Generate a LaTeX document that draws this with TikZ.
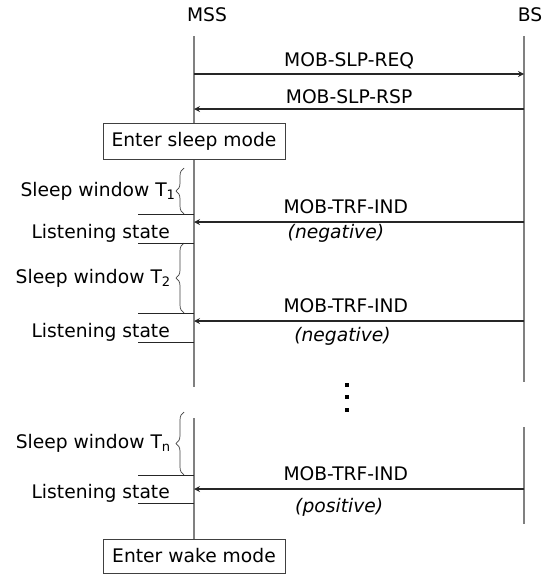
\documentclass[tikz,border=0pt]{standalone}
\usepackage{fontspec}
\setmainfont{DejaVu Sans}
\usetikzlibrary{decorations.pathreplacing}

\begin{document}
\begin{tikzpicture}[>=stealth,
  every node/.style={font=\fontsize{13.3}{15}\selectfont},
  life/.style={draw=black!50,line width=0.9pt},
  msg/.style={->,draw=black!85,line width=0.9pt},
  modebox/.style={draw=black!75,fill=white,line width=0.6pt,minimum width=4.55cm,minimum height=0.9cm,inner sep=0pt},
  tick/.style={draw=black!85,line width=0.6pt},
  window/.style={decorate,decoration={brace,amplitude=0.2cm},draw=black!75,line width=0.5pt}]
  \useasboundingbox (0,0) rectangle (13.75,-14.375);
  % lifelines
  \node (mss) at (5.175,-0.375) {MSS};
  \node (bs) at (13.25,-0.375) {BS};
  \coordinate (msstop) at (4.85,-0.9);
  \coordinate (mssend) at (4.85,-9.675);
  \coordinate (mssgo) at (4.85,-10.45);
  \coordinate (bstop) at (13.1,-0.9);
  \coordinate (bsend) at (13.1,-9.55);
  \coordinate (bsgo) at (13.1,-10.675);
  \coordinate (bsbot) at (13.1,-13.1);
  \draw[life] (msstop) -- (mssend);
  \draw[life] (bstop) -- (bsend);
  \draw[life] (bsgo) -- (bsbot);
  \node[modebox] (sleep) at (4.85,-3.54) {Enter sleep mode};
  \node[modebox,minimum height=0.85cm] (wake) at (4.85,-13.9) {Enter wake mode};
  \draw[life] (mssgo) -- (wake.north);
  % sleep request / response
  \coordinate (reqm) at (4.85,-1.85);
  \coordinate (reqb) at (13.1,-1.85);
  \coordinate (rspm) at (4.85,-2.725);
  \coordinate (rspb) at (13.1,-2.725);
  \draw[msg] (reqm) -- node[above,pos=0.47] {MOB-SLP-REQ} (reqb);
  \draw[msg] (rspb) -- node[above,pos=0.53] {MOB-SLP-RSP} (rspm);
  % traffic indications
  \coordinate (trf1m) at (4.85,-5.55);
  \coordinate (trf1b) at (13.1,-5.55);
  \coordinate (trf2m) at (4.85,-8.025);
  \coordinate (trf2b) at (13.1,-8.025);
  \coordinate (trf3m) at (4.85,-12.225);
  \coordinate (trf3b) at (13.1,-12.225);
  \draw[msg] (trf1b) -- node[above=2pt,pos=0.54] {MOB-TRF-IND} node[below=-2pt,pos=0.57] {\itshape(negative)} (trf1m);
  \draw[msg] (trf2b) -- node[above=2pt,pos=0.54] {MOB-TRF-IND} node[below=1pt,pos=0.55] {\itshape(negative)} (trf2m);
  \draw[msg] (trf3b) -- node[above=2pt,pos=0.54] {MOB-TRF-IND} node[below=3pt,pos=0.56] {\itshape(positive)} (trf3m);
  % sleep windows
  \draw[window] (4.6,-5.35) -- node[left=0.08cm] {Sleep window T\textsubscript{1}} (4.6,-4.2);
  \draw[window] (4.6,-7.825) -- node[left=0.2cm] {Sleep window T\textsubscript{2}} (4.6,-6.075);
  \draw[window] (4.6,-11.875) -- node[left=0.2cm] {Sleep window T\textsubscript{n}} (4.6,-10.3);
  \draw[tick] (3.45,-5.35) -- ++(1.4,0);
  \draw[tick] (3.45,-6.075) -- ++(1.4,0);
  \draw[tick] (3.45,-7.825) -- ++(1.4,0);
  \draw[tick] (3.45,-8.55) -- ++(1.4,0);
  \draw[tick] (3.45,-11.875) -- ++(1.4,0);
  \draw[tick] (3.45,-12.575) -- ++(1.4,0);
  \node[anchor=east] (listen1) at (4.37,-5.825) {Listening state};
  \node[anchor=east] (listen2) at (4.37,-8.3) {Listening state};
  \node[anchor=east] (listen3) at (4.37,-12.325) {Listening state};
  % omitted windows
  \foreach \y in {-9.625,-9.925,-10.25}
    \fill (8.675,\y) ++(-0.045,-0.045) rectangle ++(0.09,0.09);
\end{tikzpicture}
\end{document}
